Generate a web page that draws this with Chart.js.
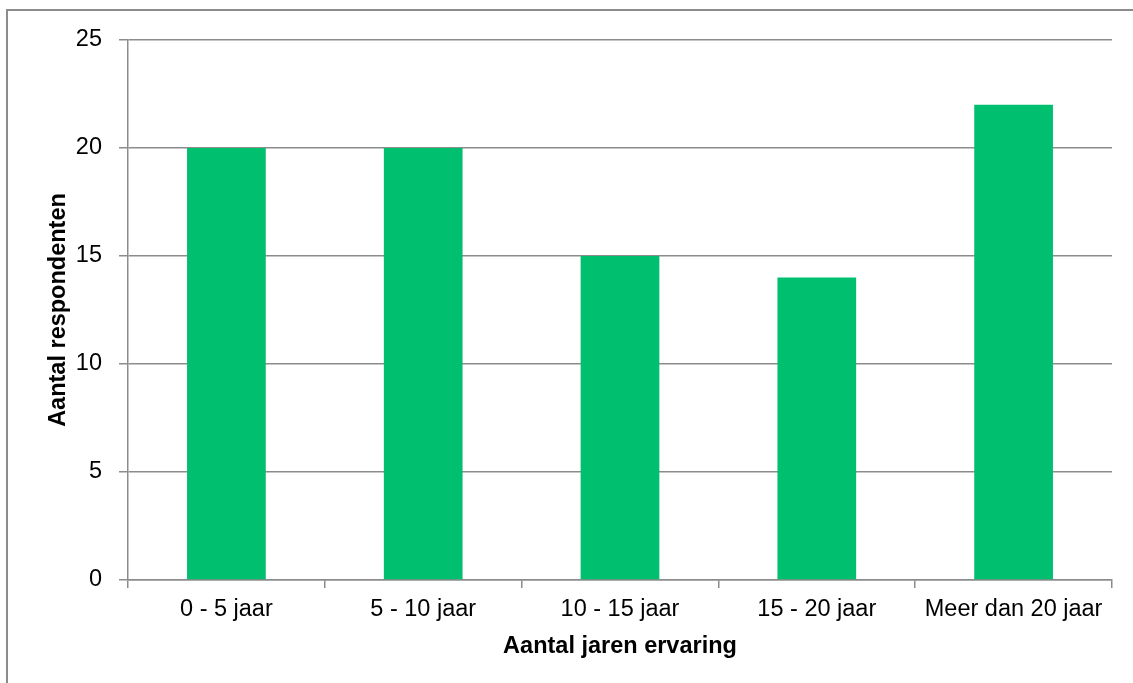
<!DOCTYPE html>
<html>
<head>
<meta charset="utf-8">
<script src="https://cdn.jsdelivr.net/npm/chart.js@4.4.0/dist/chart.umd.min.js"></script>
<style>
  html, body { margin: 0; padding: 0; background: #fff; overflow: hidden; }
  #frame { position: absolute; left: 6px; top: 9px; width: 1200px; height: 800px; border: 2px solid #8c8c8c; }
  #wrap { position: absolute; left: 0; top: 0; width: 1133px; height: 683px; }
</style>
</head>
<body>
<div id="frame"></div>
<div id="wrap"><canvas id="chart"></canvas></div>
<script>
// Gegevens
const categorieen = ['0 - 5 jaar', '5 - 10 jaar', '10 - 15 jaar', '15 - 20 jaar', 'Meer dan 20 jaar'];
const respondenten = [20, 20, 15, 14, 22];
const yTicks = [0, 5, 10, 15, 20, 25];

const grijs = '#8c8c8c';
const font = 'Liberation Sans, Arial, sans-serif';

const ctx = document.getElementById('chart').getContext('2d');

new Chart(ctx, {
  type: 'bar',
  data: {
    labels: categorieen,
    datasets: [{
      data: respondenten,
      backgroundColor: '#00bf6f',
      borderWidth: 0,
      barPercentage: 0.4,
      categoryPercentage: 1
    }]
  },
  options: {
    responsive: true,
    maintainAspectRatio: false,
    animation: false,
    devicePixelRatio: 1,
    layout: { padding: { top: 40, right: 21, left: 0, bottom: 0 } },
    plugins: {
      legend: { display: false },
      tooltip: { enabled: false }
    },
    scales: {
      x: {
        offset: true,
        grid: {
          offset: true,
          drawOnChartArea: false,
          color: grijs,
          lineWidth: 1.5,
          tickLength: 8
        },
        border: { color: grijs, width: 1.5 },
        ticks: {
          color: '#000',
          padding: 7,
          maxRotation: 0,
          font: { family: font, size: 23.5 }
        },
        title: {
          display: true,
          text: 'Aantal jaren ervaring',
          color: '#000',
          padding: { top: 4, bottom: 22 },
          font: { family: font, size: 23.5, weight: 'bold' }
        },
        afterFit: function(scale) { scale.height = 103; }
      },
      y: {
        min: 0,
        max: 25,
        afterBuildTicks: function(scale) {
          scale.ticks = yTicks.map(v => ({ value: v }));
        },
        grid: {
          color: grijs,
          lineWidth: 1.5,
          tickLength: 9
        },
        border: { color: grijs, width: 1.5 },
        ticks: {
          color: '#000',
          padding: 17,
          font: { family: font, size: 23.5 }
        },
        title: {
          display: true,
          text: 'Aantal respondenten',
          color: '#000',
          padding: { top: 44, bottom: 4 },
          font: { family: font, size: 23.5, weight: 'bold' }
        },
        afterFit: function(scale) { scale.width = 128; }
      }
    }
  }
});
</script>
</body>
</html>
